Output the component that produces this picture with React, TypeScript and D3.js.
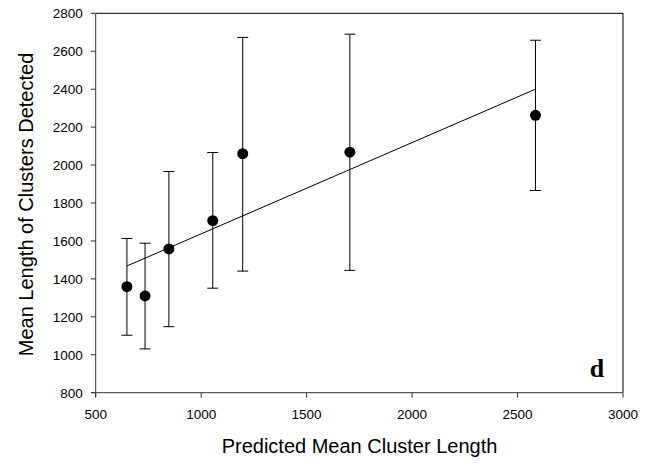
import React from "react";
import * as d3 from "d3";

const predicted = [648, 734, 847, 1055, 1197, 1705, 2585];
const meanDetected = [1359, 1310, 1558, 1707, 2060, 2068, 2262];
const errLow = [1103, 1031, 1148, 1351, 1441, 1445, 1866];
const errHigh = [1613, 1588, 1966, 2066, 2673, 2690, 2658];
const fitX = [648, 2585];
const fitY = [1468, 2400];
const xTicks = [500, 1000, 1500, 2000, 2500, 3000];
const yTicks = [800, 1000, 1200, 1400, 1600, 1800, 2000, 2200, 2400, 2600, 2800];

export default function App() {
  const W = 655, H = 465;
  const left = 95.7, right = 623, top = 13.3, bottom = 392.7;
  const x = d3.scaleLinear().domain([500, 3000]).range([left, right]);
  const y = d3.scaleLinear().domain([800, 2800]).range([bottom, top]);
  const font = "Arial, 'Liberation Sans', sans-serif";
  const line = d3.line<number>().x((d) => x(fitX[d])).y((d) => y(fitY[d]));
  return (
    <svg width={W} height={H} style={{ position: "absolute", left: 0, top: 0 }}>
      <rect width={W} height={H} fill="#fff" />
      <line x1={left} x2={right} y1={top} y2={top} stroke="#000" strokeWidth={1} />
      <line x1={right} x2={right} y1={top} y2={bottom} stroke="#000" strokeWidth={1} />
      <line x1={left} x2={left} y1={top} y2={bottom + 4} stroke="#333" strokeWidth={1} />
      <line x1={left - 4} x2={right} y1={bottom} y2={bottom} stroke="#333" strokeWidth={1} />
      {xTicks.map((t) => (
        <g key={"x" + t}>
          <line x1={x(t)} x2={x(t)} y1={bottom} y2={bottom + 5} stroke="#333" />
          <text x={x(t)} y={bottom + 26.5} textAnchor="middle" fontFamily={font} fontSize={13.5} fill="#000">{t}</text>
        </g>
      ))}
      {yTicks.map((t) => (
        <g key={"y" + t}>
          <line x1={left - 5} x2={left} y1={y(t)} y2={y(t)} stroke="#333" />
          <text x={left - 13} y={y(t)} dy="0.36em" textAnchor="end" fontFamily={font} fontSize={13.5} fill="#000">{t}</text>
        </g>
      ))}
      {predicted.map((p, i) => (
        <g key={"e" + i} stroke="#000" strokeWidth={1}>
          <line x1={x(p)} x2={x(p)} y1={y(errLow[i])} y2={y(errHigh[i])} />
          <line x1={x(p) - 5.5} x2={x(p) + 5.5} y1={y(errLow[i])} y2={y(errLow[i])} />
          <line x1={x(p) - 5.5} x2={x(p) + 5.5} y1={y(errHigh[i])} y2={y(errHigh[i])} />
        </g>
      ))}
      <path d={line([0, 1]) || ""} fill="none" stroke="#000" strokeWidth={1} />
      {predicted.map((p, i) => (
        <circle key={"c" + i} cx={x(p)} cy={y(meanDetected[i])} r={5.5} fill="#000" />
      ))}
      <text x={597} y={377} textAnchor="middle" fontFamily="'Liberation Serif', 'Times New Roman', serif" fontWeight="bold" fontSize={26} fill="#000">d</text>
      <text x={359.5} y={453} textAnchor="middle" fontFamily={font} fontSize={20} fill="#000">Predicted Mean Cluster Length</text>
      <text transform={`translate(33,204.5) rotate(-90)`} textAnchor="middle" fontFamily={font} fontSize={20} fill="#000">Mean Length of Clusters Detected</text>
    </svg>
  );
}
